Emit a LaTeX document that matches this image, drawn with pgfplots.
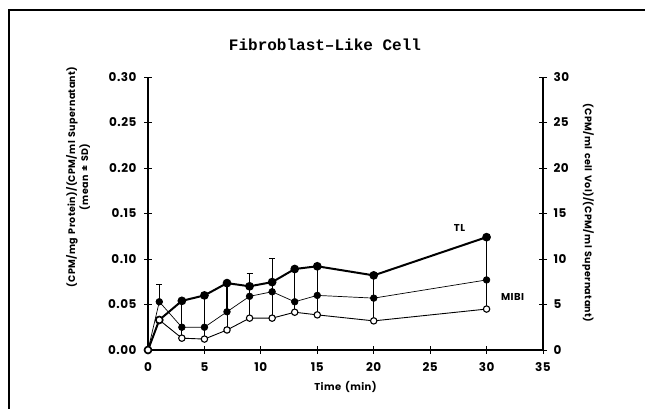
\documentclass[border=0pt]{standalone}
\usepackage{fontspec}
\setmainfont{Poppins}[LetterSpace=4, WordSpace=1.6]
\newfontfamily\titlefont{Liberation Mono}
\usepackage{pgfplots}
\pgfplotsset{compat=1.18}

\begin{document}
\begin{tikzpicture}[x=1pt,y=1pt]
\useasboundingbox (0,0) rectangle (645,409);
\draw[line width=1.3pt] (9,0) -- (9,399) -- (645,399);

\node[font=\titlefont\bfseries\fontsize{16}{18}\selectfont] at (325,364) {Fibroblast–Like Cell};

\node[rotate=90, align=center, font=\bfseries\fontsize{9.5}{13}\selectfont] at (78,232)
  {(CPM/mg Protein)/(CPM/ml Supernatant)\\(mean ± SD)};
\node[rotate=-90, font=\bfseries\fontsize{9.5}{14}\selectfont] at (588,196)
  {(CPM/ml cell Vol)/(CPM/ml Supernatant)};

\begin{axis}[
  at={(148pt,59pt)}, anchor=south west,
  scale only axis, width=395pt, height=273pt,
  xmin=0, xmax=35, ymin=0, ymax=0.30,
  axis x line=bottom, axis y line=left,
  axis line style={-, line width=1.1pt},
  xtick={0,5,10,15,20,25,30,35},
  ytick={0,0.05,0.10,0.15,0.20,0.25,0.30},
  yticklabel style={xshift=-4pt, /pgf/number format/.cd, fixed, fixed zerofill, precision=2},
  /pgf/number format/assume math mode=true,
  ticklabel style={font=\bfseries\fontsize{12}{13}\selectfont},
  xticklabel style={yshift=-5pt},
  xlabel={Time (min)},
  xlabel style={font=\bfseries\fontsize{10}{12}\selectfont, yshift=-3pt},
  tick align=center, major tick length=8pt,
  tick style={line width=0.9pt, black},
  clip=false,
]
% TL
\addplot[black, line width=2pt, mark=*, mark size=3.3pt,
  error bars/.cd, y dir=plus, y explicit,
  error bar style={line width=0.9pt},
  error mark options={rotate=90, mark size=3pt, line width=0.9pt}]
  coordinates {(0,0) (1,0.033) (3,0.054) (5,0.060) (7,0.0735)
    (9,0.070) +- (0,0.014) (11,0.0746) +- (0,0.026) (13,0.089) (15,0.092)
    (20,0.082) (30,0.124)};
% MIBI, filled
\addplot[black, line width=0.7pt, mark=*, mark size=3.3pt,
  error bars/.cd, y dir=plus, y explicit,
  error bar style={line width=1.2pt},
  error mark options={rotate=90, mark size=3pt, line width=0.9pt}]
  coordinates {(0,0) (1,0.053) +- (0,0.019) (3,0.025) +- (0,0.029)
    (5,0.025) +- (0,0.035) (7,0.042) +- (0,0.031) (9,0.059) +- (0,0.011)
    (11,0.064) +- (0,0.010) (13,0.053) +- (0,0.036) (15,0.060) +- (0,0.032)
    (20,0.057) +- (0,0.025) (30,0.077) +- (0,0.047)};
% MIBI, open
\addplot[black, line width=0.9pt, mark=*, mark size=3.2pt,
  mark options={fill=white, line width=1.1pt},
  error bars/.cd, y dir=plus, y explicit,
  error bar style={line width=0.9pt},
  error mark options={rotate=90, mark size=2pt, line width=0.8pt}]
  coordinates {(0,0) (1,0.033) (3,0.013) +- (0,0.012) (5,0.012) +- (0,0.013)
    (7,0.022) +- (0,0.020) (9,0.035) +- (0,0.024) (11,0.035) +- (0,0.029)
    (13,0.0415) +- (0,0.012) (15,0.0386) +- (0,0.021) (20,0.032) +- (0,0.025)
    (30,0.045) +- (0,0.032)};
\node[font=\bfseries\fontsize{10}{12}\selectfont] at (axis cs:27.6,0.134) {TL};
\node[font=\bfseries\fontsize{10}{12}\selectfont] at (axis cs:32.3,0.058) {MIBI};
\end{axis}

\begin{axis}[
  at={(148pt,59pt)}, anchor=south west,
  scale only axis, width=395pt, height=273pt,
  xmin=0, xmax=35, ymin=0, ymax=30,
  axis x line=none, axis y line=right,
  axis line style={-, line width=1.1pt},
  ytick={0,5,10,15,20,25,30},
  /pgf/number format/assume math mode=true,
  ticklabel style={font=\bfseries\fontsize{12}{13}\selectfont, xshift=3pt},
  tick align=center, major tick length=8pt,
  tick style={line width=0.9pt, black},
]
\end{axis}
\end{tikzpicture}
\end{document}
